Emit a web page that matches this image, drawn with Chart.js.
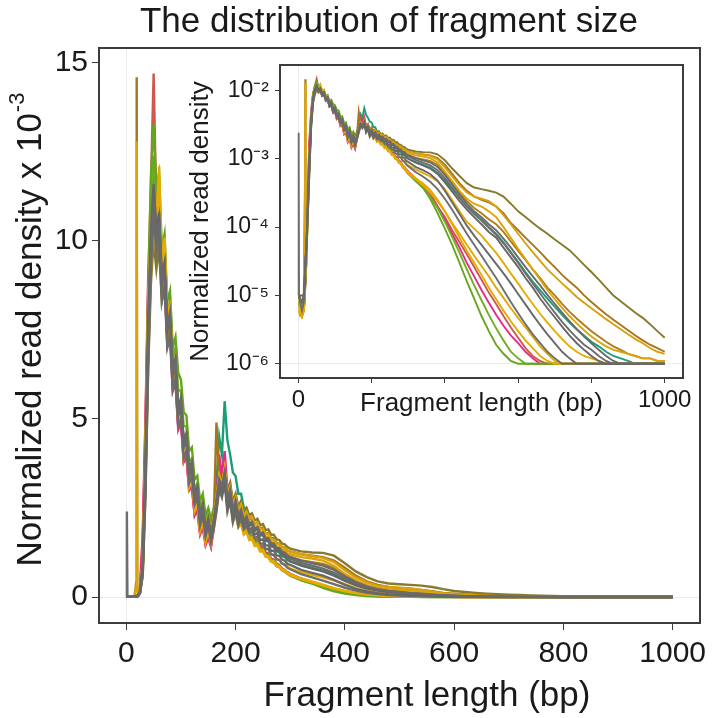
<!DOCTYPE html>
<html>
<head>
<meta charset="utf-8">
<script src="https://cdn.jsdelivr.net/npm/chart.js@4/dist/chart.umd.min.js"></script>
<style>
html,body{margin:0;padding:0;background:#fff;}
#wrap{position:relative;width:714px;height:718px;}
canvas{position:absolute;left:0;top:0;}
</style>
</head>
<body>
<div id="wrap">
<canvas id="main" width="714" height="718"></canvas>
<canvas id="inset" width="714" height="718"></canvas>
</div>
<script>
// ---------- text ----------
const chartTitle = 'The distribution of fragment size';
const xAxisTitle = 'Fragment length (bp)';
const yAxisTitle = 'Normalized read density x 10';
const yAxisExponent = '-3';
const insetYTitle = 'Normalized read density';
const insetXTitle = 'Fragment length (bp)';

// ---------- ticks ----------
const xTicks = [0, 200, 400, 600, 800, 1000];
const yTicks = [0, 5, 10, 15];
const insetXTicks = [0, 200, 400, 600, 800, 1000];
const insetXLabelled = [0, 1000];
const insetYTicks = [1e-6, 1e-5, 1e-4, 1e-3, 1e-2];

// ---------- data (normalized read density x 10^-3) ----------
const fragmentLength = [0,1,2,5,10,15,18,19,20,22,
  25,30,35,40,45,50,55,60,65,70, 75,80,85,90,95,100,105,110,115,120,
  125,130,135,140,145,150,155,160,165,170, 175,180,185,190,195,200,205,210,215,220,
  225,230,235,240,245,250,255,260,265,270, 275,280,285,290,295,300,
  320,340,360,380,400,420,440,460,480,500, 520,540,560,580,600,620,640,660,680,700,
  720,740,760,780,800,820,840,860,880,900, 920,940,960,980,1000];

const greyHigh = [0.01,0.01,0.01,0.009,0.008,0.01,0.02,0.03,0.03,0.05,
  0.14,0.85,3.4,7.0,9.5,11.0,9.9,10.5,8.8,9.2, 7.6,7.9,6.3,6.6,5.2,5.5,4.3,4.5,3.5,3.7,
  2.8,3.0,2.25,2.5,1.9,2.15,1.75,2.15,2.7,3.3, 3.1,3.5,2.75,3.0,2.45,2.7,2.3,2.45,2.15,2.25,
  2.05,2.1,1.9,1.95,1.78,1.8,1.64,1.65,1.5,1.5, 1.38,1.37,1.27,1.25,1.16,1.13,
  1.02,0.95,0.88,0.76,0.58,0.42,0.3,0.22,0.17,0.14, 0.11,0.09,0.068,0.05,0.036,0.026,0.019,0.014,0.0102,0.0075,
  0.0056,0.0042,0.0032,0.0025,0.002,0.0016,0.0013,0.0011,0.001,0.001, 0.001,0.001,0.001,0.001,0.001];

const greyMid = [0.01,0.01,0.01,0.01,0.01,0.01,0.02,0.03,0.03,0.05,
  0.15,0.8,3.5,7.5,10.0,11.5,10.2,10.8,9.0,9.4, 7.6,8.0,6.4,6.7,5.3,5.6,4.4,4.6,3.6,3.8,
  2.9,3.1,2.3,2.6,1.9,2.2,1.7,2.1,2.6,3.2, 3.0,3.4,2.6,2.9,2.3,2.6,2.2,2.4,2.1,2.25,
  2.0,2.1,1.9,1.95,1.75,1.8,1.6,1.6,1.45,1.45, 1.3,1.3,1.18,1.15,1.05,1.0,
  0.88,0.8,0.72,0.6,0.45,0.33,0.24,0.18,0.14,0.11, 0.085,0.07,0.05,0.036,0.026,0.018,0.013,0.009,0.0065,0.0048,
  0.0035,0.0026,0.002,0.0016,0.0013,0.0011,0.001,0.001,0.001,0.001, 0.001,0.001,0.001,0.001,0.001];

const greyD = [0.01,0.01,0.01,0.009,0.008,0.01,0.02,0.03,0.03,0.05,
  0.14,0.8,3.3,7.1,9.7,11.2,10.0,10.6,8.9,9.3, 7.6,7.9,6.3,6.6,5.2,5.5,4.3,4.5,3.5,3.7,
  2.8,3.0,2.25,2.5,1.85,2.15,1.7,2.1,2.65,3.25, 3.05,3.45,2.7,2.95,2.4,2.65,2.25,2.4,2.1,2.2,
  2.0,2.05,1.85,1.9,1.72,1.75,1.58,1.6,1.45,1.45, 1.33,1.32,1.22,1.2,1.11,1.08,
  0.96,0.88,0.8,0.68,0.52,0.38,0.27,0.2,0.155,0.125, 0.098,0.077,0.058,0.042,0.03,0.021,0.015,0.0107,0.0077,0.0056,
  0.0041,0.0031,0.0024,0.0019,0.0016,0.0013,0.0011,0.001,0.001,0.001, 0.001,0.001,0.001,0.001,0.001];

const greyC = [0.01,0.01,0.01,0.009,0.008,0.009,0.02,0.03,0.03,0.05,
  0.16,0.95,3.8,7.8,10.3,11.6,10.3,10.7,8.9,9.2, 7.5,7.8,6.2,6.5,5.1,5.3,4.2,4.4,3.4,3.6,
  2.7,2.9,2.15,2.45,1.8,2.1,1.65,2.05,2.55,3.1, 2.9,3.3,2.5,2.8,2.2,2.5,2.1,2.3,2.0,2.1,
  1.88,1.95,1.75,1.8,1.6,1.62,1.45,1.45,1.3,1.3, 1.17,1.16,1.05,1.02,0.93,0.9,
  0.76,0.68,0.6,0.48,0.34,0.23,0.155,0.105,0.075,0.055, 0.04,0.029,0.021,0.015,0.0105,0.0074,0.0052,0.0037,0.0027,0.002,
  0.0015,0.0012,0.001,0.001,0.001,0.001,0.001,0.001,0.001,0.001, 0.001,0.001,0.001,0.001,0.001];

const greyLow = [0.01,2.4,0.01,0.008,0.006,0.008,0.015,0.02,0.02,0.04,
  0.12,0.6,2.8,6.5,9.2,10.8,9.6,10.1,8.3,8.7, 7.0,7.3,5.8,6.1,4.8,5.0,3.9,4.1,3.2,3.4,
  2.6,2.8,2.0,2.3,1.7,2.0,1.55,1.9,2.4,3.0, 2.8,3.2,2.4,2.7,2.1,2.4,2.0,2.2,1.9,2.0,
  1.8,1.85,1.65,1.7,1.5,1.5,1.35,1.35,1.2,1.18, 1.06,1.04,0.94,0.9,0.82,0.78,
  0.64,0.55,0.46,0.36,0.26,0.18,0.12,0.08,0.055,0.038, 0.026,0.018,0.012,0.008,0.0055,0.0038,0.0027,0.002,0.0015,0.0012,
  0.001,0.001,0.001,0.001,0.001,0.001,0.001,0.001,0.001,0.001, 0.001,0.001,0.001,0.001,0.001];

const goldLow = [0.006,0.006,0.006,0.005,0.005,0.006,0.02,0.03,0.02,0.03,
  0.12,0.9,3.9,7.9,10.2,11.2,10.5,12.1,9.3,10.1, 8.0,8.2,6.3,6.6,5.0,5.4,4.0,4.3,3.2,3.5,
  2.5,2.7,1.9,2.2,1.6,1.9,1.55,2.0,2.5,3.3, 2.9,3.5,2.6,2.8,2.2,2.4,2.0,2.1,1.8,1.88,
  1.65,1.68,1.48,1.5,1.32,1.32,1.17,1.15,1.02,1.0, 0.9,0.87,0.78,0.75,0.68,0.64,
  0.52,0.44,0.35,0.25,0.17,0.11,0.07,0.045,0.03,0.02, 0.013,0.0088,0.006,0.0042,0.003,0.0022,0.0017,0.0013,0.0011,0.001,
  0.001,0.001,0.001,0.001,0.001,0.001,0.001,0.001,0.001,0.001, 0.001,0.001,0.001,0.001,0.001];

const goldC = [0.006,0.006,0.006,0.005,0.005,0.006,0.015,0.02,0.02,0.03,
  0.14,1.0,4.1,8.1,10.4,11.3,10.4,11.8,9.2,9.9, 7.9,8.1,6.2,6.5,4.9,5.3,3.9,4.2,3.1,3.4,
  2.4,2.6,1.85,2.1,1.55,1.85,1.5,1.95,2.45,3.2, 2.85,3.4,2.5,2.7,2.1,2.3,1.95,2.05,1.75,1.82,
  1.6,1.62,1.43,1.45,1.28,1.28,1.13,1.11,0.99,0.97, 0.87,0.84,0.75,0.72,0.65,0.61,
  0.5,0.41,0.32,0.24,0.17,0.115,0.08,0.055,0.038,0.027, 0.019,0.013,0.0092,0.0065,0.0047,0.0034,0.0025,0.0018,0.0014,0.0011,
  0.001,0.001,0.001,0.001,0.001,0.001,0.001,0.001,0.001,0.001, 0.001,0.001,0.001,0.001,0.001];

const goldA = [0.007,0.007,0.007,0.006,0.005,0.007,0.02,0.03,0.02,0.04,
  0.13,0.95,3.7,7.6,9.9,11.0,10.3,11.5,9.2,9.8, 7.9,8.1,6.4,6.7,5.1,5.4,4.1,4.4,3.3,3.6,
  2.6,2.8,2.0,2.3,1.7,2.0,1.6,2.0,2.6,3.3, 3.0,3.5,2.7,2.9,2.3,2.5,2.1,2.25,1.95,2.05,
  1.8,1.85,1.65,1.68,1.5,1.5,1.35,1.33,1.2,1.18, 1.07,1.04,0.95,0.92,0.85,0.8,
  0.7,0.62,0.55,0.47,0.36,0.25,0.17,0.12,0.095,0.075, 0.056,0.042,0.03,0.021,0.015,0.0105,0.0075,0.0054,0.004,0.003,
  0.0023,0.0018,0.0015,0.0013,0.0012,0.0011,0.001,0.001,0.001,0.001, 0.001,0.001,0.001,0.001,0.001];

const goldMid = [0.008,0.008,0.008,0.007,0.006,0.01,0.3,12.8,0.2,0.05,
  0.14,0.9,3.6,7.2,9.6,10.8,9.9,10.9,9.0,9.4, 7.8,8.0,6.3,6.6,5.2,5.5,4.3,4.5,3.5,3.7,
  2.8,3.0,2.2,2.5,1.9,2.2,1.8,2.2,2.7,3.4, 3.1,3.6,2.8,3.0,2.5,2.7,2.35,2.5,2.2,2.3,
  2.1,2.15,1.95,2.0,1.82,1.85,1.68,1.7,1.55,1.55, 1.42,1.42,1.32,1.3,1.22,1.2,
  1.12,1.08,1.02,0.88,0.65,0.47,0.34,0.26,0.22,0.2, 0.17,0.14,0.1,0.07,0.048,0.034,0.024,0.017,0.012,0.0088,
  0.0066,0.005,0.0039,0.0031,0.0025,0.0021,0.0018,0.0016,0.0015,0.0014, 0.0013,0.0012,0.0012,0.0011,0.0011];

const goldB = [0.009,0.009,0.009,0.008,0.007,0.01,0.02,0.03,0.03,0.05,
  0.12,0.75,3.2,6.8,9.2,10.4,9.6,10.6,8.8,9.3, 7.7,8.0,6.3,6.6,5.2,5.5,4.3,4.5,3.5,3.7,
  2.8,3.0,2.3,2.55,2.0,2.25,1.85,2.25,2.8,3.4, 3.2,3.6,2.9,3.1,2.6,2.8,2.45,2.6,2.3,2.4,
  2.2,2.25,2.05,2.1,1.9,1.92,1.76,1.78,1.62,1.62, 1.5,1.5,1.4,1.38,1.3,1.27,
  1.2,1.15,1.1,0.98,0.75,0.55,0.41,0.32,0.28,0.26, 0.24,0.2,0.15,0.11,0.08,0.058,0.043,0.032,0.024,0.019,
  0.015,0.012,0.0095,0.0078,0.0065,0.0054,0.0045,0.0038,0.0032,0.0027, 0.0023,0.002,0.0017,0.0015,0.0014];

const brown = [0.01,0.01,0.01,0.008,0.007,0.01,0.4,14.6,0.3,0.06,
  0.13,0.8,3.3,6.9,9.3,10.5,9.5,10.2,8.6,9.0, 7.4,7.7,6.1,6.4,5.0,5.3,4.1,4.4,3.4,3.6,
  2.7,2.9,2.2,2.4,1.85,2.1,1.75,2.2,4.9,3.3, 3.2,3.5,2.9,3.1,2.6,2.8,2.45,2.6,2.3,2.4,
  2.2,2.25,2.05,2.1,1.92,1.95,1.78,1.8,1.65,1.65, 1.52,1.5,1.4,1.38,1.3,1.28,
  1.2,1.16,1.12,1.02,0.82,0.6,0.44,0.34,0.28,0.25, 0.23,0.2,0.16,0.115,0.09,0.07,0.055,0.043,0.033,0.026,
  0.02,0.016,0.013,0.01,0.008,0.0065,0.0053,0.0044,0.0037,0.0031, 0.0026,0.0022,0.0019,0.0017,0.0015];

const brownB = [0.01,0.01,0.01,0.008,0.007,0.009,0.02,0.03,0.03,0.05,
  0.13,0.8,3.3,7.0,9.4,10.7,9.7,10.4,8.7,9.1, 7.5,7.8,6.2,6.5,5.1,5.4,4.2,4.4,3.4,3.6,
  2.7,2.9,2.2,2.45,1.85,2.1,1.7,2.1,2.6,3.2, 3.0,3.4,2.7,2.95,2.45,2.65,2.3,2.45,2.15,2.25,
  2.05,2.1,1.9,1.95,1.77,1.8,1.64,1.65,1.5,1.5, 1.38,1.36,1.26,1.24,1.15,1.12,
  1.03,0.98,0.93,0.82,0.62,0.45,0.32,0.24,0.19,0.16, 0.13,0.11,0.085,0.062,0.045,0.033,0.024,0.018,0.013,0.01,
  0.0075,0.0058,0.0046,0.0037,0.003,0.0025,0.0021,0.0018,0.0016,0.0014, 0.0013,0.0012,0.0012,0.0011,0.0011];

const olive = [0.01,0.01,0.01,0.008,0.007,0.01,0.02,0.03,0.03,0.05,
  0.1,0.6,2.9,6.4,8.8,10.0,9.2,9.8,8.3,8.7, 7.2,7.5,6.0,6.3,5.0,5.2,4.1,4.3,3.4,3.6,
  2.8,3.0,2.3,2.5,2.0,2.2,1.9,2.3,2.8,3.4, 3.2,3.6,3.0,3.2,2.7,2.9,2.55,2.7,2.4,2.5,
  2.3,2.35,2.15,2.2,2.02,2.05,1.88,1.9,1.75,1.75, 1.62,1.6,1.5,1.48,1.4,1.36,
  1.28,1.25,1.24,1.16,0.95,0.72,0.56,0.44,0.38,0.36, 0.34,0.32,0.28,0.22,0.17,0.14,0.115,0.095,0.08,0.066,
  0.055,0.046,0.036,0.028,0.022,0.017,0.013,0.01,0.0082,0.0068, 0.0056,0.0047,0.0038,0.003,0.0024];

const green = [0.008,0.008,0.008,0.006,0.005,0.006,0.01,0.015,0.015,0.03,
  0.1,0.7,3.8,8.5,11.8,13.3,11.5,11.9,9.8,10.2, 8.3,8.6,7.0,7.3,6.3,6.1,5.2,5.1,4.1,4.2,
  3.3,3.4,2.7,2.9,2.3,2.5,2.2,2.5,2.9,3.4, 3.1,3.5,2.7,2.9,2.3,2.5,2.1,2.2,1.9,1.95,
  1.75,1.75,1.55,1.55,1.38,1.35,1.2,1.18,1.05,1.02, 0.92,0.88,0.8,0.75,0.68,0.62,
  0.48,0.38,0.26,0.16,0.095,0.055,0.03,0.016,0.009,0.005, 0.003,0.0019,0.0014,0.0011,0.001,0.001,0.001,0.001,0.001,0.001,
  0.001,0.001,0.001,0.001,0.001,0.001,0.001,0.001,0.001,0.001, 0.001,0.001,0.001,0.001,0.001];

const greenB = [0.008,0.008,0.008,0.006,0.005,0.006,0.01,0.015,0.015,0.03,
  0.12,0.8,3.9,8.2,11.0,12.4,11.0,11.4,9.4,9.8, 8.0,8.3,6.7,7.0,5.8,5.8,4.8,4.8,3.8,3.9,
  3.0,3.2,2.5,2.7,2.1,2.35,2.0,2.35,2.8,3.3, 3.0,3.4,2.6,2.8,2.2,2.4,2.0,2.1,1.85,1.9,
  1.7,1.7,1.5,1.5,1.33,1.3,1.16,1.14,1.01,0.98, 0.88,0.85,0.77,0.72,0.66,0.6,
  0.47,0.38,0.28,0.19,0.12,0.072,0.042,0.024,0.014,0.0085, 0.0052,0.0033,0.0022,0.0015,0.0012,0.001,0.001,0.001,0.001,0.001,
  0.001,0.001,0.001,0.001,0.001,0.001,0.001,0.001,0.001,0.001, 0.001,0.001,0.001,0.001,0.001];

const pink = [0.008,0.008,0.008,0.006,0.005,0.006,0.01,0.015,0.02,0.05,
  0.2,1.6,4.8,8.6,10.6,11.8,10.4,10.6,8.6,8.9, 7.1,7.4,5.8,6.0,4.7,4.9,3.8,3.9,3.0,3.1,
  2.3,2.5,1.8,2.0,1.5,1.7,1.43,2.0,2.8,4.0, 3.4,4.1,3.0,3.2,2.5,2.7,2.2,2.35,2.0,2.1,
  1.8,1.85,1.6,1.62,1.42,1.42,1.25,1.22,1.08,1.05, 0.94,0.9,0.8,0.76,0.7,0.65,
  0.52,0.42,0.31,0.2,0.13,0.08,0.05,0.03,0.019,0.012, 0.0078,0.0052,0.0036,0.0026,0.002,0.0015,0.0012,0.001,0.001,0.001,
  0.001,0.001,0.001,0.001,0.001,0.001,0.001,0.001,0.001,0.001, 0.001,0.001,0.001,0.001,0.001];

const red = [0.008,0.008,0.008,0.006,0.005,0.006,0.01,0.015,0.02,0.06,
  0.25,1.8,5.0,9.0,11.5,14.7,10.8,11.0,8.9,9.1, 7.3,7.5,5.9,6.1,4.8,5.0,3.8,4.0,3.0,3.1,
  2.3,2.4,1.75,1.95,1.45,1.65,1.4,1.9,2.7,3.6, 3.2,3.8,2.9,3.0,2.4,2.55,2.1,2.2,1.9,1.95,
  1.7,1.72,1.5,1.5,1.32,1.3,1.16,1.13,1.0,0.97, 0.87,0.84,0.75,0.71,0.65,0.6,
  0.5,0.4,0.3,0.2,0.14,0.09,0.06,0.04,0.026,0.017, 0.011,0.0075,0.005,0.0034,0.0024,0.0017,0.0013,0.0011,0.001,0.001,
  0.001,0.001,0.001,0.001,0.001,0.001,0.001,0.001,0.001,0.001, 0.001,0.001,0.001,0.001,0.001];

const teal = [0.01,0.01,0.01,0.008,0.007,0.008,0.015,0.02,0.02,0.05,
  0.15,1.0,4.0,7.8,10.0,11.0,10.0,10.5,8.7,9.1, 7.4,7.7,6.1,6.4,5.0,5.3,4.1,4.3,3.3,3.5,
  2.6,2.8,2.0,2.3,1.75,2.0,1.7,2.3,3.2,4.5, 4.0,5.5,4.4,4.0,3.5,3.4,2.9,2.9,2.5,2.5,
  2.2,2.2,1.95,1.95,1.75,1.75,1.58,1.56,1.42,1.4, 1.28,1.25,1.15,1.12,1.04,1.0,
  0.9,0.82,0.74,0.62,0.48,0.36,0.27,0.2,0.16,0.13, 0.1,0.08,0.06,0.043,0.031,0.022,0.016,0.012,0.009,0.0068,
  0.0052,0.004,0.0032,0.0026,0.0021,0.0018,0.0015,0.0013,0.0012,0.0011, 0.001,0.001,0.001,0.001,0.001];

// first listed = drawn on top
const seriesList = [greyHigh, greyMid, greyD, greyC, greyLow, goldLow, goldC, goldA, goldMid, goldB, brown, brownB, olive, green, greenB, pink, red, teal];
const seriesNames = ['greyHigh','greyMid','greyD','greyC','greyLow','goldLow','goldC','goldA','goldMid','goldB','brown','brownB','olive','green','greenB','pink','red','teal'];

// ---------- styles ----------
const seriesColors = ['#6a6a6a','#666666','#6c6c6c','#686868','#6e6e6e','#E6AB02','#E2A806','#E6AB02','#DDA40A','#D9A00C','#A6761D','#AE7E1B','#857A2E','#66A61E','#6FAE22','#E7298A','#CF574C','#1B9E77'];
const FONT = "'Liberation Sans', Arial, Helvetica, sans-serif";
Chart.defaults.font.family = FONT;
Chart.defaults.color = '#1a1a1a';

const SUP = {'0':'⁰','1':'¹','2':'²','3':'³','4':'⁴','5':'⁵','6':'⁶','7':'⁷','8':'⁸','9':'⁹','-':'⁻'};
function supLabel(v) {
  const e = Math.round(Math.log10(v));
  return '10' + String(e).split('').map(c => SUP[c]).join('');
}

function mainData() {
  return seriesList.map((s, i) => ({
    label: seriesNames[i],
    data: s.map((v, j) => ({x: fragmentLength[j], y: v})),
    borderColor: seriesColors[i],
    borderWidth: 2.4,
    pointRadius: 0,
    tension: 0,
    fill: false
  }));
}
function insetData() {
  return seriesList.map((s, i) => ({
    label: seriesNames[i],
    data: s.map((v, j) => ({x: fragmentLength[j], y: Math.max(v * 1e-3, 1e-6)})),
    borderColor: seriesColors[i],
    borderWidth: 1.9,
    pointRadius: 0,
    tension: 0,
    fill: false
  }));
}

const borderPlugin = {
  id: 'panelBorder',
  afterDraw(chart) {
    const a = chart.chartArea, ctx = chart.ctx;
    ctx.save();
    ctx.strokeStyle = '#3c3c3c';
    ctx.lineWidth = 2;
    ctx.strokeRect(a.left, a.top, a.right - a.left, a.bottom - a.top);
    ctx.restore();
  }
};

const mainTextPlugin = {
  id: 'mainText',
  afterDraw(chart) {
    const ctx = chart.ctx;
    ctx.save();
    ctx.fillStyle = '#1a1a1a';
    ctx.textAlign = 'center';
    ctx.textBaseline = 'alphabetic';
    ctx.font = '35px ' + FONT;
    ctx.fillText(chartTitle, 389, 32);
    ctx.fillText(xAxisTitle, 427, 706);
    ctx.translate(29, 330);
    ctx.rotate(-Math.PI / 2);
    ctx.font = '35px ' + FONT;
    const w1 = ctx.measureText(yAxisTitle).width;
    ctx.font = '22px ' + FONT;
    const w2 = ctx.measureText(yAxisExponent).width;
    const x0 = -(w1 + w2) / 2;
    ctx.textAlign = 'left';
    ctx.font = '35px ' + FONT;
    ctx.fillText(yAxisTitle, x0, 12);
    ctx.font = '22px ' + FONT;
    ctx.fillText(yAxisExponent, x0 + w1 + 1, -5);
    ctx.restore();
  }
};

const zeroGrid = (ctx) => (ctx.tick && ctx.tick.value === 0) ? '#ebebeb' : 'rgba(0,0,0,0)';

new Chart(document.getElementById('main'), {
  type: 'line',
  data: {datasets: mainData()},
  options: {
    responsive: false,
    animation: false,
    devicePixelRatio: 1,
    layout: {padding: {top: 48, right: 14, left: 0, bottom: 0}},
    plugins: {legend: {display: false}, tooltip: {enabled: false}, title: {display: false}},
    scales: {
      x: {
        type: 'linear', min: -50, max: 1050,
        afterBuildTicks: s => { s.ticks = xTicks.map(v => ({value: v})); },
        afterFit: s => { s.height = 95; },
        ticks: {font: {size: 30}, padding: 6, maxRotation: 0, autoSkip: false, color: '#1a1a1a', callback: v => String(v)},
        grid: {color: zeroGrid, tickColor: '#3c3c3c', tickLength: 7, lineWidth: 1},
        border: {display: false}
      },
      y: {
        type: 'linear', min: -0.73, max: 15.42,
        afterBuildTicks: s => { s.ticks = yTicks.map(v => ({value: v})); },
        afterFit: s => { s.width = 99; },
        ticks: {font: {size: 30}, padding: 4, color: '#1a1a1a', callback: v => String(v)},
        grid: {color: zeroGrid, tickColor: '#3c3c3c', tickLength: 7, lineWidth: 1},
        border: {display: false}
      }
    }
  },
  plugins: [borderPlugin, mainTextPlugin]
});

const insetGridX = (ctx) => (ctx.tick && ctx.tick.value === 0) ? '#ebebeb' : 'rgba(0,0,0,0)';
const insetGridY = (ctx) => (ctx.tick && Math.abs(ctx.tick.value - 1e-6) < 1e-9) ? '#ebebeb' : 'rgba(0,0,0,0)';

new Chart(document.getElementById('inset'), {
  type: 'line',
  data: {datasets: insetData()},
  options: {
    responsive: false,
    animation: false,
    devicePixelRatio: 1,
    layout: {padding: {top: 65, right: 31, left: 160, bottom: 290}},
    plugins: {legend: {display: false}, tooltip: {enabled: false}, title: {display: false}},
    scales: {
      x: {
        type: 'linear', min: -50, max: 1050,
        afterBuildTicks: s => { s.ticks = insetXTicks.map(v => ({value: v})); },
        afterFit: s => { s.height = 50; },
        ticks: {
          font: {size: 24}, padding: 3, maxRotation: 0, autoSkip: false, color: '#1a1a1a',
          callback: v => insetXLabelled.includes(v) ? String(v) : ''
        },
        title: {display: true, text: insetXTitle, font: {size: 26}, color: '#1a1a1a', padding: {top: 0, bottom: 8.4}},
        grid: {color: insetGridX, tickColor: '#3c3c3c', tickLength: 5, lineWidth: 1},
        border: {display: false}
      },
      y: {
        type: 'logarithmic', min: Math.pow(10, -6.208), max: Math.pow(10, -1.628),
        afterBuildTicks: s => { s.ticks = insetYTicks.map(v => ({value: v})); },
        afterFit: s => { s.width = 120; },
        ticks: {font: {size: 23}, padding: 6, color: '#1a1a1a', callback: v => supLabel(v)},
        title: {display: true, text: insetYTitle, font: {size: 26}, color: '#1a1a1a', padding: {top: 25.4, bottom: 0}},
        grid: {color: insetGridY, tickColor: '#3c3c3c', tickLength: 5, lineWidth: 1},
        border: {display: false}
      }
    }
  },
  plugins: [borderPlugin]
});
</script>
</body>
</html>
